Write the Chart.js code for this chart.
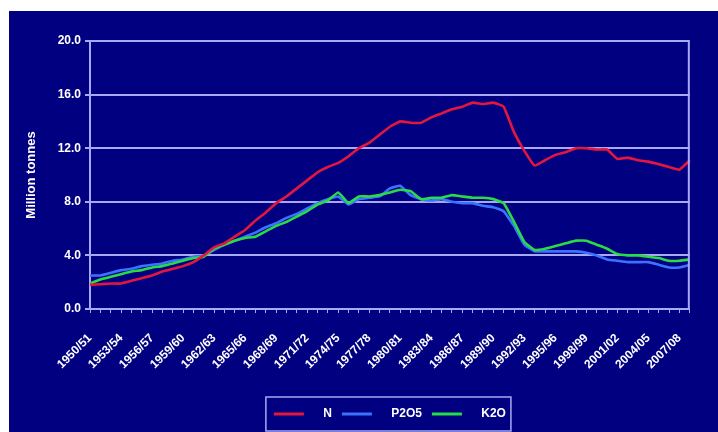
<!DOCTYPE html>
<html>
<head>
<meta charset="utf-8">
<script src="https://cdn.jsdelivr.net/npm/chart.js@4.4.0/dist/chart.umd.min.js"></script>
<style>
html, body { margin: 0; padding: 0; background: #ffffff; }
#wrap { position: absolute; left: 9px; top: 11px; width: 709px; height: 421px; background: #000080; }
</style>
</head>
<body>
<div id="wrap"><canvas id="fert-chart"></canvas></div>
<script>
const seasons = [
    '1950/51', '1951/52', '1952/53', '1953/54', '1954/55', '1955/56', '1956/57', '1957/58', '1958/59', '1959/60',
    '1960/61', '1961/62', '1962/63', '1963/64', '1964/65', '1965/66', '1966/67', '1967/68', '1968/69', '1969/70',
    '1970/71', '1971/72', '1972/73', '1973/74', '1974/75', '1975/76', '1976/77', '1977/78', '1978/79', '1979/80',
    '1980/81', '1981/82', '1982/83', '1983/84', '1984/85', '1985/86', '1986/87', '1987/88', '1988/89', '1989/90',
    '1990/91', '1991/92', '1992/93', '1993/94', '1994/95', '1995/96', '1996/97', '1997/98', '1998/99', '1999/00',
    '2000/01', '2001/02', '2002/03', '2003/04', '2004/05', '2005/06', '2006/07', '2007/08', '2008/09'
];

// million tonnes
const nValues = [
    1.8, 1.85, 1.9, 1.9, 2.1, 2.3, 2.5, 2.8, 3.0, 3.2,
    3.5, 4.0, 4.6, 4.9, 5.4, 5.9, 6.6, 7.2, 7.9, 8.4,
    9.0, 9.6, 10.2, 10.6, 10.9, 11.4, 12.0, 12.4, 13.0, 13.6,
    14.0, 13.9, 13.9, 14.3, 14.6, 14.9, 15.1, 15.4, 15.3, 15.4,
    15.1, 13.2, 11.8, 10.7, 11.1, 11.5, 11.7, 12.0, 12.0, 11.9,
    11.9, 11.2, 11.3, 11.1, 11.0, 10.8, 10.6, 10.4, 11.1
];

const p2o5Values = [
    2.5, 2.5, 2.7, 2.9, 3.0, 3.2, 3.3, 3.4, 3.6, 3.7,
    3.9, 4.0, 4.4, 4.8, 5.1, 5.4, 5.7, 6.1, 6.4, 6.8,
    7.1, 7.5, 7.9, 8.2, 8.4, 7.8, 8.2, 8.3, 8.4, 9.0,
    9.2, 8.5, 8.2, 8.1, 8.2, 8.0, 7.9, 7.9, 7.7, 7.6,
    7.3, 6.2, 4.8, 4.3, 4.3, 4.3, 4.3, 4.3, 4.2, 4.0,
    3.7, 3.6, 3.5, 3.5, 3.5, 3.3, 3.1, 3.1, 3.3
];

const k2oValues = [
    1.9, 2.2, 2.4, 2.6, 2.8, 2.9, 3.1, 3.2, 3.4, 3.6,
    3.8, 3.9, 4.5, 4.8, 5.1, 5.3, 5.4, 5.8, 6.2, 6.5,
    6.9, 7.3, 7.8, 8.1, 8.7, 7.9, 8.4, 8.4, 8.5, 8.7,
    8.9, 8.8, 8.2, 8.3, 8.3, 8.5, 8.4, 8.3, 8.3, 8.2,
    7.9, 6.5, 5.0, 4.4, 4.5, 4.7, 4.9, 5.1, 5.1, 4.8,
    4.5, 4.1, 4.0, 4.0, 3.9, 3.8, 3.6, 3.6, 3.7
];

const gridColor = '#a8a8f4';
const textColor = '#ffffff';
const fontFamily = 'Liberation Sans';

// right edge of the plot and the frame round the legend
const framePlugin = {
    id: 'frame',
    afterDraw(chart) {
        const c = chart.ctx;
        const area = chart.chartArea;
        c.save();
        c.strokeStyle = gridColor;
        c.lineWidth = 2;
        c.beginPath();
        c.moveTo(area.right - 1, area.top);
        c.lineTo(area.right - 1, area.bottom);
        c.stroke();

        const boxes = chart.legend.legendHitBoxes;
        if (boxes && boxes.length) {
            const first = boxes[0];
            const last = boxes[boxes.length - 1];
            c.lineWidth = 1.5;
            c.strokeRect(first.left - 8, first.top - 11, last.left + last.width - first.left + 13, first.height + 22);
        }
        c.restore();
    }
};

const datasets = [
    { label: 'N', data: nValues, color: '#e3163f', order: 0 },
    { label: 'P2O5', data: p2o5Values, color: '#3d72ff', order: 2 },
    { label: 'K2O', data: k2oValues, color: '#27dc45', order: 1 }
].map(ds => ({
    label: ds.label,
    data: ds.data,
    order: ds.order,
    borderColor: ds.color,
    backgroundColor: ds.color,
    borderWidth: 2.6,
    pointRadius: 0,
    tension: 0.1,
    fill: false
}));

new Chart(document.getElementById('fert-chart'), {
    type: 'line',
    data: { labels: seasons, datasets: datasets },
    plugins: [framePlugin],
    options: {
        responsive: true,
        maintainAspectRatio: false,
        animation: false,
        // no auto padding, so the legend is centred under the whole plot
        layout: { autoPadding: false, padding: { top: 30, right: 2, left: 0, bottom: 2 } },
        plugins: {
            tooltip: { enabled: false },
            legend: {
                position: 'bottom',
                fullSize: false,
                labels: {
                    color: textColor,
                    font: { family: fontFamily, size: 12, weight: 'bold' },
                    boxWidth: 30,
                    boxHeight: 3,
                    padding: 10,
                    sort: (a, b) => a.datasetIndex - b.datasetIndex,
                    generateLabels(chart) {
                        return Chart.defaults.plugins.legend.labels.generateLabels(chart).map(item => {
                            item.text = '    ' + item.text;
                            item.lineWidth = 0;
                            return item;
                        });
                    }
                }
            }
        },
        scales: {
            x: {
                offset: false,
                grid: { display: true, drawOnChartArea: false, color: gridColor, tickLength: 4, lineWidth: 1 },
                border: { color: gridColor, width: 2 },
                ticks: {
                    autoSkip: false,
                    maxRotation: 45,
                    minRotation: 45,
                    padding: 18,
                    color: textColor,
                    font: { family: fontFamily, size: 12, weight: 'bold' },
                    callback: function (val, idx) {
                        return idx % 3 === 0 ? this.getLabelForValue(val) : '';
                    }
                },
                afterFit(scale) { scale.height = 89; }
            },
            y: {
                min: 0,
                max: 20,
                grid: { color: gridColor, lineWidth: 2, tickLength: 5 },
                border: { color: gridColor, width: 2 },
                ticks: {
                    stepSize: 4,
                    padding: 4,
                    color: textColor,
                    font: { family: fontFamily, size: 12, weight: 'bold' },
                    callback: v => v.toFixed(1)
                },
                title: {
                    display: true,
                    text: 'Million tonnes',
                    color: textColor,
                    padding: { top: 15, bottom: 0 },
                    font: { family: fontFamily, size: 13, weight: 'bold' }
                },
                afterFit(scale) { scale.width = 81; }
            }
        }
    }
});
</script>
</body>
</html>
